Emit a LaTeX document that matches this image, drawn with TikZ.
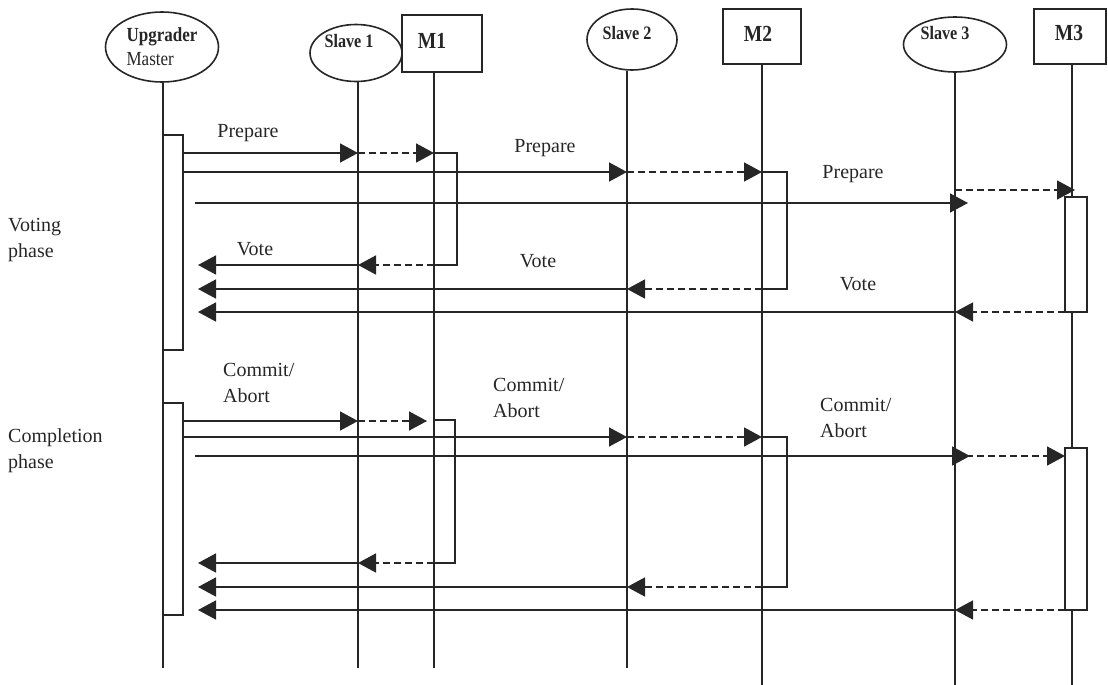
\documentclass[tikz,border=0pt]{standalone}
\usepackage{fontspec}
\setmainfont{Liberation Serif}
\newfontfamily\hdfont[FakeStretch=0.85]{Liberation Serif}
\usetikzlibrary{arrows.meta,shapes.geometric}
\tikzset{
  ln/.style={line width=1.6pt, draw=black!85},
  msg/.style={ln, -{Triangle[length=18pt,width=19pt]}},
  rep/.style={msg, dash pattern=on 7pt off 4pt},
  objell/.style={draw=black!85, line width=1.6pt, ellipse, inner sep=0pt},
  objbox/.style={draw=black!85, line width=1.6pt, rectangle, inner sep=0pt},
  actbox/.style={draw=black!85, line width=1.6pt, fill=white},
  lbl/.style={font=\fontsize{20}{26}\selectfont, inner sep=0pt, text=black!85},
  hdtext/.style={font=\hdfont\bfseries\fontsize{19}{22}\selectfont, inner sep=0pt, text=black!85},
  mtext/.style={font=\hdfont\bfseries\fontsize{23}{26}\selectfont, inner sep=0pt, text=black!85},
}
\begin{document}
\begin{tikzpicture}[x=1pt,y=-1pt]
\useasboundingbox (0,0) rectangle (1108,685);
% ---- objects (header) ----
\node[objell, minimum width=113pt, minimum height=70pt, align=left, text=black!85,
      font=\hdfont\fontsize{20}{24}\selectfont] (um) at (162,47) {\textbf{Upgrader}\\Master};
\node[objell, minimum width=92pt, minimum height=57pt,
      label={[hdtext,xshift=-7pt,yshift=12pt]center:Slave 1}] (s1) at (356,53) {};
\node[objbox, minimum width=80pt, minimum height=57pt,
      label={[mtext,xshift=-10pt,yshift=3pt]center:M1}] (m1) at (442,43.5) {};
\node[objell, minimum width=90pt, minimum height=61pt,
      label={[hdtext,xshift=-5pt,yshift=6pt]center:Slave 2}] (s2) at (632,39.5) {};
\node[objbox, minimum width=78pt, minimum height=55pt,
      label={[mtext,xshift=-4pt,yshift=3pt]center:M2}] (m2) at (762,36.5) {};
\node[objell, minimum width=103pt, minimum height=55pt,
      label={[hdtext,xshift=-10pt,yshift=11pt]center:Slave 3}] (s3) at (955,44.5) {};
\node[objbox, minimum width=72pt, minimum height=55pt,
      label={[mtext,xshift=-1pt,yshift=4pt]center:M3}] (m3) at (1070,36.5) {};
% ---- lifelines ----
\coordinate (umE) at (163,668);
\coordinate (s1E) at (358,668);
\coordinate (m1E) at (434,668);
\coordinate (s2E) at (627,668);
\coordinate (m2E) at (762,685);
\coordinate (s3E) at (955,685);
\coordinate (m3E) at (1072,685);
\draw[ln] (umE |- um.south) -- (umE);
\draw[ln] (s1E |- s1.south) -- (s1E);
\draw[ln] (m1E |- m1.south) -- (m1E);
\draw[ln] (s2E |- s2.south) -- (s2E);
\draw[ln] (m2E |- m2.south) -- (m2E);
\draw[ln] (s3E |- s3.south) -- (s3E);
\draw[ln] (m3E |- m3.south) -- (m3E);
% ---- activation boxes ----
\draw[actbox] (163,135) rectangle (183,350);
\draw[actbox] (434,153) rectangle (457,265);
\draw[actbox] (762,172) rectangle (787,289);
\draw[actbox] (1065,197) rectangle (1087,312);
\draw[actbox] (163,403) rectangle (183,615);
\draw[actbox] (434,420) rectangle (455,563);
\draw[actbox] (762,437) rectangle (787,587);
\draw[actbox] (1065,448) rectangle (1087,610);
% ---- voting phase messages ----
\coordinate (a1) at (183,153); \coordinate (a1s) at (358,153); \coordinate (a1m) at (434,153);
\coordinate (a2) at (183,172); \coordinate (a2s) at (627,172); \coordinate (a2m) at (762,172);
\coordinate (a3) at (195,203); \coordinate (a3s) at (968,203);
\coordinate (a3d) at (955,190); \coordinate (a3m) at (1075,190);
\draw[msg] (a1) -- (a1s); \draw[rep] (a1s) -- (a1m);
\draw[msg] (a2) -- (a2s); \draw[rep] (a2s) -- (a2m);
\draw[msg] (a3) -- (a3s); \draw[rep] (a3d) -- (a3m);
\coordinate (r1m) at (434,265); \coordinate (r1s) at (358,265); \coordinate (r1u) at (198,265);
\coordinate (r2m) at (762,289); \coordinate (r2s) at (627,289); \coordinate (r2u) at (198,289);
\coordinate (r3m) at (1065,312); \coordinate (r3s) at (955,312); \coordinate (r3u) at (198,312);
\draw[rep] (r1m) -- (r1s); \draw[msg] (r1s) -- (r1u);
\draw[rep] (r2m) -- (r2s); \draw[msg] (r2s) -- (r2u);
\draw[rep] (r3m) -- (r3s); \draw[msg] (r3s) -- (r3u);
% ---- completion phase messages ----
\coordinate (c1) at (183,421); \coordinate (c1s) at (358,421); \coordinate (c1m) at (427,421);
\coordinate (c2) at (183,437); \coordinate (c2s) at (627,437); \coordinate (c2m) at (762,437);
\coordinate (c3) at (195,456); \coordinate (c3s) at (970,456);
\coordinate (c3d) at (955,456); \coordinate (c3m) at (1065,456);
\draw[msg] (c1) -- (c1s); \draw[rep] (c1s) -- (c1m);
\draw[msg] (c2) -- (c2s); \draw[rep] (c2s) -- (c2m);
\draw[rep] (c3d) -- (c3m); \draw[msg] (c3) -- (c3s);
\coordinate (k1m) at (434,563); \coordinate (k1s) at (358,563); \coordinate (k1u) at (198,563);
\coordinate (k2m) at (762,587); \coordinate (k2s) at (627,587); \coordinate (k2u) at (198,587);
\coordinate (k3m) at (1065,610); \coordinate (k3s) at (955,610); \coordinate (k3u) at (198,610);
\draw[rep] (k1m) -- (k1s); \draw[msg] (k1s) -- (k1u);
\draw[rep] (k2m) -- (k2s); \draw[msg] (k2s) -- (k2u);
\draw[rep] (k3m) -- (k3s); \draw[msg] (k3s) -- (k3u);
% ---- labels ----
\node[lbl, anchor=base] (lp1) at (248,137) {Prepare};
\node[lbl, anchor=base] (lp2) at (545,152) {Prepare};
\node[lbl, anchor=base] (lp3) at (853,178) {Prepare};
\node[lbl, anchor=base] (lv1) at (255,255) {Vote};
\node[lbl, anchor=base] (lv2) at (538,267) {Vote};
\node[lbl, anchor=base] (lv3) at (858,290) {Vote};
\node[lbl, anchor=west, align=left] (lc1) at (223,383) {Commit/\\Abort};
\node[lbl, anchor=west, align=left] (lc2) at (493,398) {Commit/\\Abort};
\node[lbl, anchor=west, align=left] (lc3) at (820,418) {Commit/\\Abort};
\node[lbl, anchor=west, align=left] (ph1) at (8,240) {Voting\\phase};
\node[lbl, anchor=west, align=left] (ph2) at (8,451) {Completion\\phase};
\end{tikzpicture}
\end{document}
